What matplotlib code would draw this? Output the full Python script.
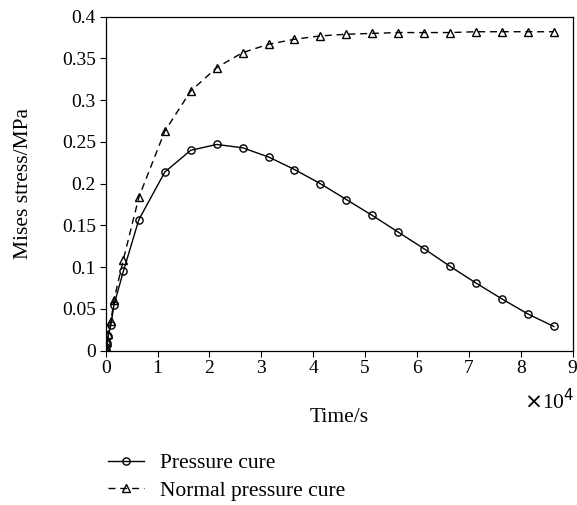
import matplotlib
matplotlib.use("Agg")
import matplotlib.pyplot as plt
from matplotlib.ticker import FixedLocator, FuncFormatter

# Data
time_s = [0, 100, 250, 500, 1000, 1600, 3400, 6400, 11400, 16400, 21400, 26400,
          31400, 36400, 41400, 46400, 51400, 56400, 61400, 66400, 71400, 76400,
          81400, 86400]
pressure_cure = [0.0, 0.004, 0.009, 0.018, 0.031, 0.055, 0.095, 0.157, 0.214, 0.240,
                 0.247, 0.243, 0.232, 0.217, 0.200, 0.181, 0.162, 0.142, 0.122,
                 0.101, 0.081, 0.062, 0.044, 0.029]
normal_pressure_cure = [0.0, 0.005, 0.010, 0.020, 0.035, 0.061, 0.109, 0.184, 0.263,
                        0.311, 0.339, 0.357, 0.367, 0.373, 0.377, 0.379, 0.380, 0.381,
                        0.381, 0.381, 0.382, 0.382, 0.382, 0.382]
x_ticks = [0, 1, 2, 3, 4, 5, 6, 7, 8, 9]
y_ticks = [0, 0.05, 0.1, 0.15, 0.2, 0.25, 0.3, 0.35, 0.4]
y_tick_labels = ["0", "0.05", "0.1", "0.15", "0.2", "0.25", "0.3", "0.35", "0.4"]

plt.rcParams['font.family'] = ['Liberation Serif', 'DejaVu Serif']
FS = 14
FS2 = 15.5

fig = plt.figure(figsize=(5.77, 5.05), dpi=100)
ax = fig.add_axes([105.7 / 577, (505 - 350.7) / 505, (572.5 - 105.7) / 577, (350.7 - 16.7) / 505])

l1, = ax.plot(time_s, pressure_cure, '-', color='black', lw=1.0, marker='o', ms=5.2,
              mfc='none', mec='black', mew=1.0, label='Pressure cure')
l2, = ax.plot(time_s, normal_pressure_cure, '--', color='black', lw=1.0, marker='^', ms=5.8,
              mfc='none', mec='black', mew=1.0, label='Normal pressure cure', dashes=(5, 3.5))

ax.set_xlim(0, 9e4)
ax.set_ylim(0, 0.4)
ax.xaxis.set_major_locator(FixedLocator([v * 1e4 for v in x_ticks]))
ax.xaxis.set_major_formatter(FuncFormatter(lambda v, p: f"{v / 1e4:.0f}"))
ax.set_yticks(y_ticks)
ax.set_yticklabels(y_tick_labels)
ax.tick_params(direction='out', length=4, width=0.8, labelsize=FS, pad=3)
for s in ax.spines.values():
    s.set_linewidth(0.9)

ax.set_xlabel('Time/s', fontsize=FS2, labelpad=22)
ax.set_ylabel('Mises stress/MPa', fontsize=FS2, labelpad=21)
fig.text(549 / 577, 1 - 402 / 505, r'$\times$10$^4$', fontsize=FS2, ha='center', va='center')

fig.legend(handles=[l1, l2], loc='center left', bbox_to_anchor=(99 / 577, 1 - 477 / 505),
           frameon=False, fontsize=FS2, handlelength=1.7, handletextpad=0.75,
           labelspacing=0.35, borderaxespad=0)

fig.savefig('out.png', dpi=100)
